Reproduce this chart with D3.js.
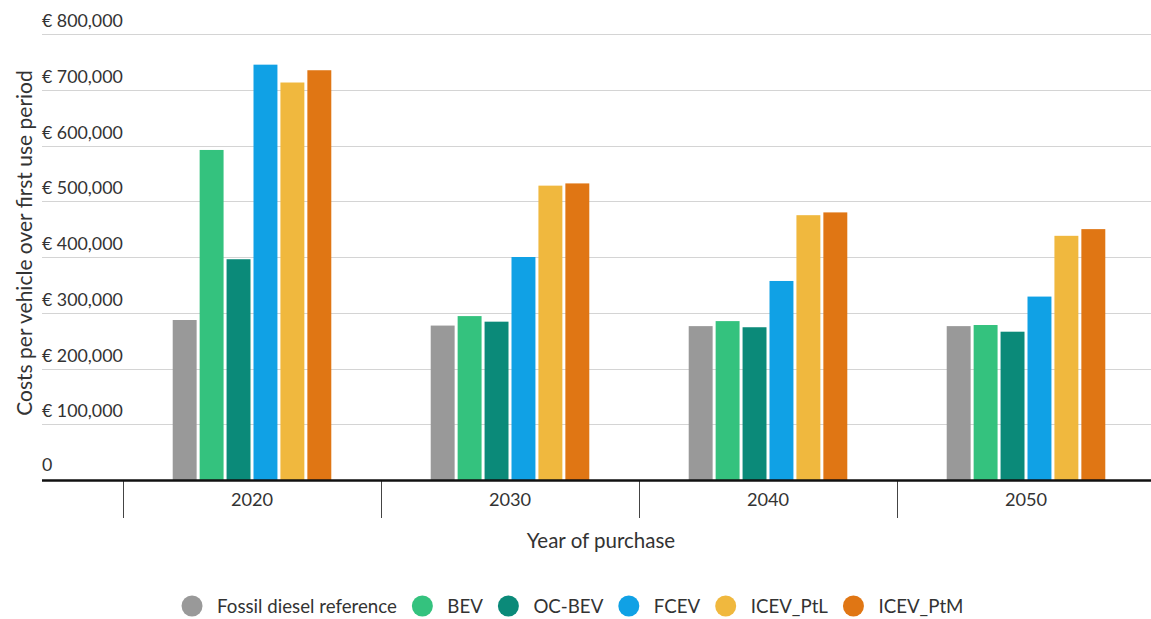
<!DOCTYPE html>
<html>
<head>
<meta charset="utf-8">
<script src="https://cdn.jsdelivr.net/npm/d3@7"></script>
<style>
  html, body { margin: 0; padding: 0; background: #fff; }
  svg { display: block; font-family: "Lato", "Noto Sans", sans-serif; }
</style>
</head>
<body>
<svg id="chart" width="1151" height="619"></svg>
<script>
// Purchase years (x categories)
const years = ["2020", "2030", "2040", "2050"];

// Drivetrain series
const seriesNames = ["Fossil diesel reference", "BEV", "OC-BEV", "FCEV", "ICEV_PtL", "ICEV_PtM"];
const seriesColors = ["#999999", "#34c27e", "#0b8a79", "#10a1e5", "#f0b83e", "#e07614"];

// Costs per vehicle over first use period (EUR), one value per year
const fossilDiesel = [287000, 277000, 276000, 276000];
const bev          = [592000, 294000, 285000, 278000];
const ocBev        = [396000, 284000, 274000, 266000];
const fcev         = [745000, 400000, 357000, 329000];
const icevPtL      = [713000, 528000, 475000, 438000];
const icevPtM      = [735000, 532000, 480000, 450000];

// Y axis tick values
const yTicks = [0, 100000, 200000, 300000, 400000, 500000, 600000, 700000, 800000];

const seriesValues = [fossilDiesel, bev, ocBev, fcev, icevPtL, icevPtM];

const svg = d3.select("#chart");
const plotLeft = 42, plotRight = 1151, baseY = 480, topY = 34;

const y = d3.scaleLinear().domain([0, 800000]).range([baseY, topY]);
const x = d3.scaleBand().domain(years).range([123, 1155]).paddingInner(0).paddingOuter(0);
const xInner = d3.scaleBand().domain(seriesNames)
  .range([0, x.bandwidth()]).paddingOuter(1.79).paddingInner(0);

const fmt = v => v === 0 ? "0" : "€ " + d3.format(",")(v);

// Gridlines
svg.append("g").selectAll("line").data(yTicks.filter(d => d > 0)).join("line")
  .attr("x1", plotLeft).attr("x2", plotRight)
  .attr("y1", d => Math.round(y(d)) + 0.5).attr("y2", d => Math.round(y(d)) + 0.5)
  .attr("stroke", "#d4d4d4").attr("stroke-width", 1);

// Y tick labels sit above their gridline
svg.append("g").selectAll("text").data(yTicks).join("text")
  .attr("x", plotLeft).attr("y", d => y(d) - (d === 0 ? 9 : 7))
  .attr("font-size", 17.8).attr("fill", "#333")
  .text(fmt);

// Bars
const groups = svg.append("g").selectAll("g").data(years).join("g")
  .attr("transform", d => `translate(${x(d)},0)`);
groups.selectAll("rect")
  .data((yr, i) => seriesNames.map((s, j) => ({ s, j, v: seriesValues[j][i] })))
  .join("rect")
  .attr("x", d => xInner(d.s) + 1.5)
  .attr("width", xInner.bandwidth() - 3)
  .attr("y", d => y(d.v))
  .attr("height", d => baseY - y(d.v))
  .attr("fill", d => seriesColors[d.j]);

// Category separators
svg.append("g").selectAll("line").data(years.concat(["end"])).join("line")
  .attr("x1", (d, i) => Math.round(123 + i * x.bandwidth()) + 0.5)
  .attr("x2", (d, i) => Math.round(123 + i * x.bandwidth()) + 0.5)
  .attr("y1", baseY).attr("y2", 518)
  .attr("stroke", "#444").attr("stroke-width", 1);

// Baseline
svg.append("line").attr("x1", plotLeft).attr("x2", plotRight)
  .attr("y1", baseY + 0.5).attr("y2", baseY + 0.5)
  .attr("stroke", "#111").attr("stroke-width", 2.5);

// X tick labels
svg.append("g").selectAll("text").data(years).join("text")
  .attr("x", d => x(d) + x.bandwidth() / 2).attr("y", 506)
  .attr("text-anchor", "middle").attr("font-size", 18.2).attr("fill", "#333")
  .text(d => d);

// Axis titles
svg.append("text").attr("x", 601).attr("y", 548).attr("text-anchor", "middle")
  .attr("font-size", 20.5).attr("fill", "#333").text("Year of purchase");
svg.append("text").attr("transform", "translate(32,243) rotate(-90)")
  .attr("text-anchor", "middle").attr("font-size", 21).attr("fill", "#333")
  .text("Costs per vehicle over first use period");

// Legend
const legend = svg.append("g");
const r = 10.5, gapIn = 14.5, gapOut = 15;
let cx = 0;
seriesNames.forEach((name, i) => {
  const g = legend.append("g");
  g.append("circle").attr("r", r).attr("cx", r).attr("cy", 0).attr("fill", seriesColors[i]);
  const t = g.append("text").attr("x", 2 * r + gapIn).attr("y", 6.5)
    .attr("font-size", 18.7).attr("fill", "#333").text(name);
  const w = 2 * r + gapIn + t.node().getComputedTextLength();
  g.attr("transform", `translate(${cx},0)`);
  cx += w + gapOut;
});
const totalW = cx - gapOut;
legend.attr("transform", `translate(${572.5 - totalW / 2},606)`);
</script>
</body>
</html>
